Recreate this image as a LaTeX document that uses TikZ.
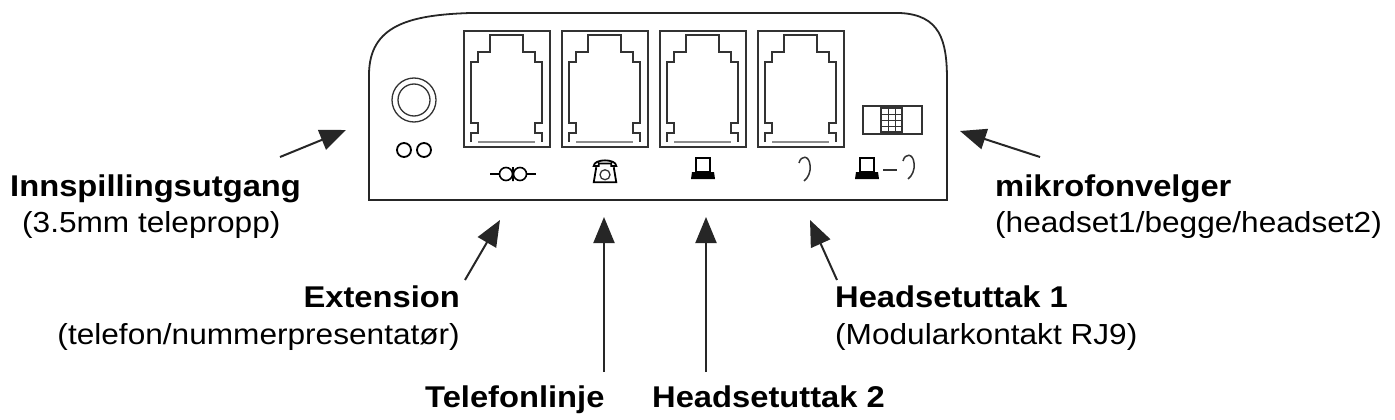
\documentclass[tikz,border=0pt]{standalone}
\usepackage{fontspec}
\setmainfont{Liberation Sans}
\usetikzlibrary{arrows.meta}
\newcommand{\widetxt}[1]{\scalebox{1.09}[1]{#1}}
\begin{document}
\begin{tikzpicture}[x=1pt,y=-1pt,
  dev/.style={line width=1.8pt,black!85},
  thin/.style={line width=1.3pt,black!80},
  lbl/.style={font=\fontsize{30}{30}\selectfont\bfseries,inner sep=0pt},
  sub/.style={font=\fontsize{29}{29}\selectfont,inner sep=0pt},
  arr/.style={line width=2pt,black!85,-{Triangle[length=26pt,width=21pt]}}]
\useasboundingbox (0,0) rectangle (1395,420);
% housing
\draw[dev] (369,200) -- (369,75) .. controls (369,25) and (410,15) .. (470,13) -- (900,13) .. controls (940,15) and (947,40) .. (947,80) -- (947,200) -- cycle;
% jacks
\foreach \x/\n in {464/j1,562/j2,660/j3,758/j4}{
  \draw[thin] (\x,31) rectangle ++(86,116);
  \draw[thin] (\x+7,142) -- (\x+7,133) -- (\x+14,133) -- (\x+14,123) -- (\x+7,123) -- (\x+7,62) -- (\x+14,62) -- (\x+14,52) -- (\x+26,52) -- (\x+26,35) -- (\x+59,35) -- (\x+59,52) -- (\x+71,52) -- (\x+71,62) -- (\x+78,62) -- (\x+78,123) -- (\x+71,123) -- (\x+71,133) -- (\x+78,133) -- (\x+78,142);
  \draw[black!45,line width=1.5pt] (\x+14,142) -- (\x+71,142);
  \coordinate (\n) at (\x+43,147);
}
% audio jack
\coordinate (aj) at (414,100);
\draw[thin] (aj) circle (22) (aj) circle (16);
\draw[line width=1.8pt] (404,150) circle (7) (424,150) circle (7);
% switch
\draw[thin] (863,106) rectangle (922,134);
\draw[thin] (881,108) rectangle (902,132);
\foreach \y in {114,120,126} \draw[thin,line width=0.8pt] (881,\y) -- (902,\y);
\foreach \x in {888,895} \draw[thin,line width=0.8pt] (\x,108) -- (\x,132);
\coordinate (sw) at (947,133);
% extension icon
\draw[line width=1.6pt] (490,174) -- (499,174) (527,174) -- (536,174);
\draw[line width=1.6pt] (506,174) circle (6.5) (520,174) circle (6.5) (513,167) -- (513,181);
% telephone icon
\begin{scope}[shift={(605,171)},scale=1.25]
\draw[line width=1.8pt] (-9,-4) .. controls (-9,-10) and (9,-10) .. (9,-4) -- (5,-4) -- (5,-6) -- (-5,-6) -- (-5,-4) -- cycle;
\draw[line width=1.8pt] (-7,-3) -- (-9,9) -- (9,9) -- (7,-3);
\draw[thin] (0,3) circle (4);
\end{scope}
% computer icons
\foreach \cx in {703,867}{
\begin{scope}[shift={(\cx,168)}]
\draw[line width=2.4pt] (-7,-10) rectangle (7,4);
\fill (-11,4) -- (11,4) -- (12,11) -- (-12,11) -- cycle;
\end{scope}}
% headset icons
\draw[thin,line width=1.5pt] (799,163) .. controls (801,155) and (809,155) .. (810,165) .. controls (811,172) and (808,178) .. (804,181);
\draw[thin,line width=1.5pt] (883,170) -- (897,170);
\draw[thin,line width=1.5pt] (903,161) .. controls (905,153) and (913,153) .. (914,163) .. controls (915,170) and (912,176) .. (908,179);
% labels
\node[lbl,anchor=base west] (inn) at (10,196) {\widetxt{Innspillingsutgang}};
\node[sub,anchor=base west] at (22,232) {\widetxt{(3.5mm telepropp)}};
\node[lbl,anchor=base east] (ext) at (460,307) {\widetxt{Extension}};
\node[sub,anchor=base east] at (460,344) {\widetxt{(telefon/nummerpresentatør)}};
\node[lbl,anchor=base west] (tel) at (425,407) {\widetxt{Telefonlinje}};
\node[lbl,anchor=base west] (hs2) at (652,407) {\widetxt{Headsetuttak 2}};
\node[lbl,anchor=base west] (hs1) at (835,307) {\widetxt{Headsetuttak 1}};
\node[sub,anchor=base west] at (835,344) {\widetxt{(Modularkontakt RJ9)}};
\node[lbl,anchor=base west] (mik) at (995,196) {\widetxt{mikrofonvelger}};
\node[sub,anchor=base west] at (995,232) {\widetxt{(headset1/begge/headset2)}};
% arrows
\draw[arr] (280,157) -- (346,130);
\draw[arr] (465,280) -- (500,220);
\draw[arr] (604,372) -- (604,217);
\draw[arr] (706,372) -- (706,217);
\draw[arr] (837,280) -- (810,220);
\draw[arr] (1040,157) -- (960,131);
\end{tikzpicture}
\end{document}
